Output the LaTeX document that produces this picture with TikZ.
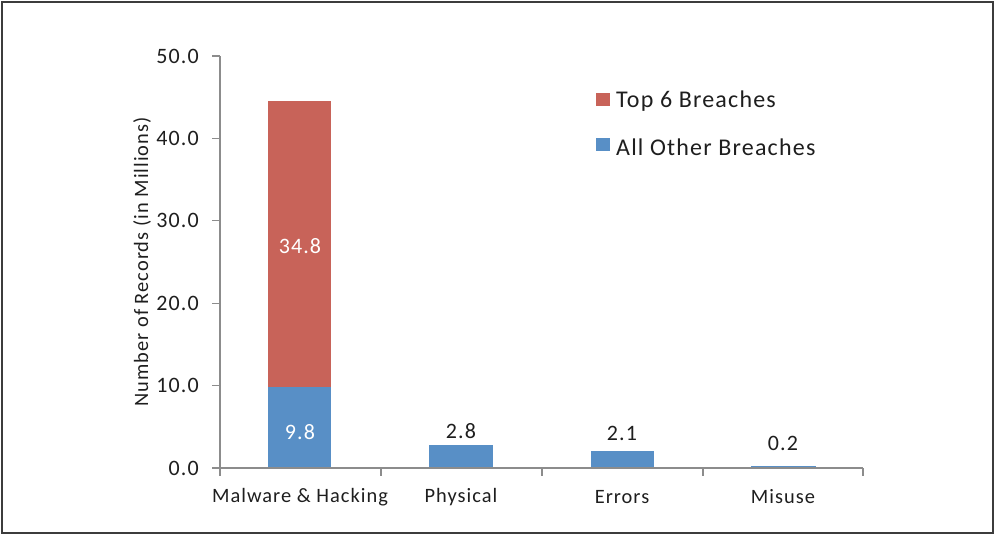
\documentclass[tikz,border=0pt]{standalone}
\usepackage{fontspec}
\setmainfont{Carlito}[LetterSpace=5]
\definecolor{topred}{RGB}{200,99,89}
\definecolor{otherblue}{RGB}{88,143,198}
\definecolor{axisgray}{RGB}{140,140,140}
\definecolor{txt}{RGB}{30,30,30}
\begin{document}
\begin{tikzpicture}[x=1pt,y=-1pt,
  lbl/.style={font=\fontsize{20.4}{24}\selectfont, text=txt, inner sep=0pt},
  ticklbl/.style={lbl, anchor=east, font=\fontsize{22}{25}\selectfont},
  leglbl/.style={lbl, anchor=west, font=\fontsize{24}{27}\selectfont},
  axisline/.style={draw=axisgray, line width=1.2pt}]
\useasboundingbox (0,0) rectangle (995,536);
% outer frame
\draw[line width=2pt, draw={rgb,255:red,60;green,60;blue,60}] (2,2) rectangle (993,533);

% bars (y = 468 - 8.24*value)
\fill[otherblue] (268,468) rectangle (331,387.2);
\fill[topred] (268,387.2) rectangle (331,101.4);
\fill[otherblue] (429,468) rectangle (493,444.9);
\fill[otherblue] (591,468) rectangle (654,450.7);
\fill[otherblue] (751,468) rectangle (816,466.4);

% axes
\draw[axisline] (220,56) -- (220,468) -- (863,468);
\foreach \v in {0,1,2,3,4,5} {
  \draw[axisline] (212,468-82.4*\v) -- (220,468-82.4*\v);
}
\foreach \x in {220,381,542,703,863} {
  \draw[axisline] (\x,468) -- (\x,476);
}

% y tick labels
\node[ticklbl] (y0) at (199,468) {0.0};
\node[ticklbl] (y1) at (199,385.6) {10.0};
\node[ticklbl] (y2) at (199,303.2) {20.0};
\node[ticklbl] (y3) at (199,220.8) {30.0};
\node[ticklbl] (y4) at (199,138.4) {40.0};
\node[ticklbl] (y5) at (199,56) {50.0};

% axis title
\node[lbl, rotate=90] (ytitle) at (142,262) {Number of Records (in Millions)};

% category labels
\node[lbl] (c1) at (300,497) {Malware \& Hacking};
\node[lbl] (c2) at (461,497) {Physical};
\node[lbl] (c3) at (622,497) {Errors};
\node[lbl] (c4) at (783,497) {Misuse};

% value labels
\node[ticklbl, anchor=center, text=white] (v1) at (300,246) {34.8};
\node[ticklbl, anchor=center, text=white] (v2) at (300,432) {9.8};
\node[ticklbl, anchor=center] (v3) at (461,431) {2.8};
\node[ticklbl, anchor=center] (v4) at (622,433) {2.1};
\node[ticklbl, anchor=center] (v5) at (783,443) {0.2};

% legend
\fill[topred] (596,93) rectangle (610,106);
\node[leglbl] (l1) at (616,101) {Top 6 Breaches};
\fill[otherblue] (596,138) rectangle (610,151);
\node[leglbl] (l2) at (616,147) {All Other Breaches};
\end{tikzpicture}
\end{document}
